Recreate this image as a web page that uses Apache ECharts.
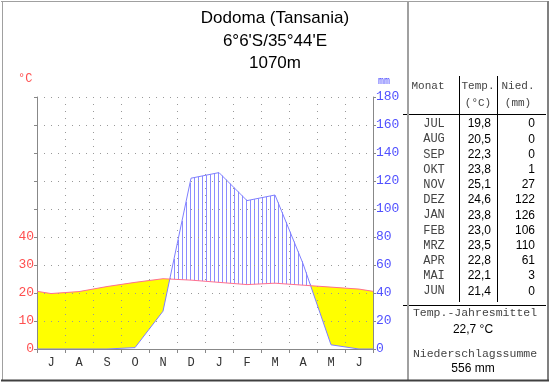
<!DOCTYPE html>
<html><head><meta charset="utf-8">
<script src="https://cdn.jsdelivr.net/npm/echarts@6/dist/echarts.min.js"></script>
<style>html,body{margin:0;padding:0;background:#fff}#c{width:550px;height:384px}</style>
</head><body><div id="c"></div>
<script>
// ---- data ----
const monthLetters = ['J','A','S','O','N','D','J','F','M','A','M','J'];
const monthNames = ['JUL','AUG','SEP','OKT','NOV','DEZ','JAN','FEB','MRZ','APR','MAI','JUN'];
const temps = [19.8,20.5,22.3,23.8,25.1,24.6,23.8,23.0,23.5,22.8,22.1,21.4];
const precip = [0,0,0,1,27,122,126,106,110,61,3,0];
const tempLabelMax = 40;
const titleLines = ['Dodoma (Tansania)', "6°6'S/35°44'E", '1070m'];

// ---- derived ----
const n = temps.length;
const edgeT = (temps[0] + temps[n-1]) / 2;
const edgeP = (precip[0] + precip[n-1]) / 2;
const tPts = [[0, edgeT]].concat(temps.map((v,i)=>[i+0.5, v]), [[n, edgeT]]);
const pPts = [[0, edgeP]].concat(precip.map((v,i)=>[i+0.5, v]), [[n, edgeP]]);
const meanT = temps.reduce((a,b)=>a+b,0)/n;
const sumP = precip.reduce((a,b)=>a+b,0);
const fmt1 = v => v.toFixed(1).replace('.', ',');

const GL = 37, GR = 177, GT = 97, GB = 35;
const MONO = '"Liberation Mono", "DejaVu Sans Mono", monospace';
const SANS = '"Liberation Sans", Arial, sans-serif';

function renderFill(params, api) {
  const T = tPts.map(p => api.coord([p[0], p[1]]));
  const P = pPts.map(p => api.coord([p[0], p[1] / 2]));
  const nodes = [];
  for (let i = 0; i < T.length; i++) {
    nodes.push({x: T[i][0], t: T[i][1], p: P[i][1]});
    if (i < T.length - 1) {
      const d0 = P[i][1] - T[i][1], d1 = P[i+1][1] - T[i+1][1];
      if (d0 * d1 < 0) {
        const f = d0 / (d0 - d1);
        const x = T[i][0] + f * (T[i+1][0] - T[i][0]);
        const y = T[i][1] + f * (T[i+1][1] - T[i][1]);
        nodes.push({x: x, t: y, p: y});
      }
    }
  }
  const children = [];
  let run = null;
  const runs = [];
  for (let i = 0; i < nodes.length - 1; i++) {
    const a = nodes[i], b = nodes[i+1];
    const arid = (a.p - a.t) + (b.p - b.t) > 0;
    if (arid) { if (!run) { run = [a]; runs.push(run); } run.push(b); }
    else run = null;
  }
  runs.forEach(r => {
    const pts = r.map(q => [q.x, q.t]).concat(r.slice().reverse().map(q => [q.x, q.p]));
    children.push({type: 'polygon', shape: {points: pts}, style: {fill: '#ffff00', stroke: null}});
  });
  const x0 = nodes[0].x, x1 = nodes[nodes.length-1].x;
  for (let x = x0 + 1; x < x1; x += 4) {
    let k = 0;
    while (k < nodes.length - 2 && nodes[k+1].x < x) k++;
    const a = nodes[k], b = nodes[k+1];
    const f = (x - a.x) / (b.x - a.x);
    const yt = a.t + f * (b.t - a.t), yp = a.p + f * (b.p - a.p);
    if (yp < yt - 1) {
      const xx = Math.round(x) + 0.5;
      children.push({type: 'line', shape: {x1: xx, y1: yp, x2: xx, y2: yt},
        style: {stroke: '#8c8cff', lineWidth: 1}});
    }
  }
  return {type: 'group', children: children};
}

const gridDot = {color: '#999', width: 1, type: [1, 6]};
const graphics = [];
// titles
titleLines.forEach((s, i) => graphics.push({type: 'text', x: 275, y: [18, 41, 63][i],
  style: {text: s, font: '17px ' + SANS, fill: '#000', textAlign: 'center', textVerticalAlign: 'middle'}}));
graphics.push({type: 'text', x: 18, y: 79, style: {text: '°C', font: '12px ' + MONO, fill: '#ff4f4f', textVerticalAlign: 'middle'}});
graphics.push({type: 'text', x: 378, y: 81, style: {text: 'mm', font: '10px ' + MONO, fill: '#5050ff', textVerticalAlign: 'middle'}});
// table
const lineG = (x1,y1,x2,y2,c,w) => ({type:'line', shape:{x1,y1,x2,y2}, style:{stroke:c||'#000', lineWidth:w||1}});
graphics.push(lineG(459.5, 76, 459.5, 302));
graphics.push(lineG(497.5, 76, 497.5, 302));
graphics.push(lineG(403, 114.5, 546, 114.5));
graphics.push(lineG(403, 305.5, 546, 305.5));
const txt = (s, x, y, font, fill, align) => ({type:'text', x, y, style:{text:s, font, fill, textAlign:align||'center', textVerticalAlign:'middle'}});
graphics.push(txt('Monat', 428, 86, '11px ' + MONO, '#444'));
graphics.push(txt('Temp.', 478, 86, '11px ' + MONO, '#444'));
graphics.push(txt('(°C)', 478, 103, '11px ' + MONO, '#444'));
graphics.push(txt('Nied.', 518, 86, '11px ' + MONO, '#444'));
graphics.push(txt('(mm)', 518, 103, '11px ' + MONO, '#444'));
monthNames.forEach((m, i) => {
  const y = 124 + i * 15.2;
  graphics.push(txt(m, 434, y, '12px ' + MONO, '#444'));
  graphics.push(txt(fmt1(temps[i]), 491, y, '12px ' + SANS, '#000', 'right'));
  graphics.push(txt(String(precip[i]), 535, y, '12px ' + SANS, '#000', 'right'));
});
graphics.push(txt('Temp.-Jahresmittel', 475, 313, '11.5px ' + MONO, '#444'));
graphics.push(txt(fmt1(meanT) + ' °C', 473, 330, '12px ' + SANS, '#000'));
graphics.push(txt('Niederschlagssumme', 475, 354, '11.5px ' + MONO, '#444'));
graphics.push(txt(sumP + ' mm', 473, 369, '12px ' + SANS, '#000'));
// frame
graphics.push(lineG(1, 1.5, 549, 1.5, '#a0a0a0'));
graphics.push(lineG(2.5, 1, 2.5, 381, '#a0a0a0'));
graphics.push(lineG(408, 1, 408, 381, '#a0a0a0', 2));
graphics.push(lineG(548, 1, 548, 381, '#808080', 2));
graphics.push(lineG(1, 380.5, 549, 380.5, '#404040', 2));

const option = {
  animation: false,
  backgroundColor: '#fff',
  grid: {left: GL, right: GR, top: GT, bottom: GB, containLabel: false},
  xAxis: [
    {type: 'category', data: monthLetters, boundaryGap: true,
      axisLine: {lineStyle: {color: '#888'}},
      axisTick: {show: true, length: 4, lineStyle: {color: '#888'}},
      axisLabel: {color: '#333', fontFamily: MONO, fontSize: 12, margin: 8},
      splitLine: {show: true, lineStyle: gridDot}},
    {type: 'value', min: 0, max: n, show: false}
  ],
  yAxis: [
    {type: 'value', min: 0, max: 90, interval: 10, position: 'left',
      axisLine: {show: true, lineStyle: {color: '#888'}},
      axisTick: {show: true, length: 3, lineStyle: {color: '#888'}},
      axisLabel: {color: '#ff4f4f', fontFamily: MONO, fontSize: 13, margin: 3,
        formatter: v => v <= tempLabelMax ? String(v) : ''},
      splitLine: {show: true, lineStyle: gridDot}},
    {type: 'value', min: 0, max: 180, interval: 20, position: 'right',
      axisLine: {show: true, lineStyle: {color: '#888'}},
      axisTick: {show: true, length: 3, lineStyle: {color: '#888'}},
      axisLabel: {color: '#5050ff', fontFamily: MONO, fontSize: 13, margin: 3},
      splitLine: {show: false}}
  ],
  series: [
    {type: 'custom', xAxisIndex: 1, yAxisIndex: 0, z: -1, silent: true,
      renderItem: renderFill, data: [0], clip: true},
    {type: 'line', xAxisIndex: 1, yAxisIndex: 1, data: pPts, symbol: 'none',
      lineStyle: {color: '#7f7fff', width: 1}, silent: true},
    {type: 'line', xAxisIndex: 1, yAxisIndex: 0, data: tPts, symbol: 'none',
      lineStyle: {color: '#ff6f8f', width: 1}, silent: true}
  ],
  graphic: graphics
};
echarts.init(document.getElementById('c'), null, {renderer: 'canvas'}).setOption(option);
</script></body></html>
